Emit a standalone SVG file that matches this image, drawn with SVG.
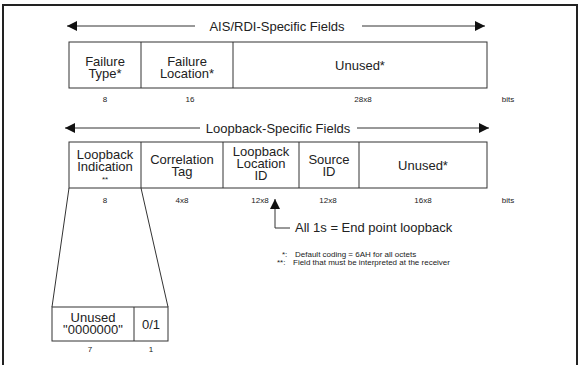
<svg xmlns="http://www.w3.org/2000/svg" width="580" height="365" viewBox="0 0 580 365">
<defs>
<style>
text{font-family:"Liberation Sans",Arial,sans-serif;fill:#222}
.c{font-size:13px;text-anchor:middle}
.s{font-size:8px;text-anchor:middle}
.n{font-size:8px}
.box{fill:#fff;stroke:#333;stroke-width:1}
.ln{stroke:#333;stroke-width:1;fill:none}
</style>
<marker id="ah" viewBox="0 0 10 10" refX="10" refY="5" markerWidth="15" markerHeight="10" markerUnits="userSpaceOnUse" orient="auto"><path d="M0,0L10,5L0,10z" fill="#111"/></marker>
</defs>
<rect width="580" height="365" fill="#fff"/>
<path d="M3,365V5H577V365" fill="none" stroke="#222" stroke-width="2"/>

<g id="connectors">
<line class="ln" x1="195" y1="26" x2="67" y2="26" marker-end="url(#ah)"/>
<line class="ln" x1="362" y1="26" x2="485" y2="26" marker-end="url(#ah)"/>
<line class="ln" x1="200" y1="128" x2="65" y2="128" marker-end="url(#ah)"/>
<line class="ln" x1="357" y1="128" x2="489" y2="128" marker-end="url(#ah)"/>
<line class="ln" x1="69" y1="188" x2="52" y2="307"/>
<line class="ln" x1="141" y1="188" x2="168" y2="307"/>
<path class="ln" d="M290,228H275V199" marker-end="url(#ah)"/>
</g>

<g id="ais-title"><text class="c" x="277" y="31">AIS/RDI-Specific Fields</text></g>
<g id="ais-row">
<rect class="box" x="69" y="42" width="418" height="46"/>
<line class="ln" x1="141" y1="42" x2="141" y2="88"/>
<line class="ln" x1="233" y1="42" x2="233" y2="88"/>
<text class="c" x="105" y="66">Failure</text><text class="c" x="105" y="78">Type*</text>
<text class="c" x="187" y="66">Failure</text><text class="c" x="187" y="78">Location*</text>
<text class="c" x="360" y="70">Unused*</text>
<text class="s" x="105" y="102">8</text>
<text class="s" x="190" y="102">16</text>
<text class="s" x="363" y="102">28x8</text>
<text class="s" x="508" y="102">bits</text>
</g>

<g id="lb-title"><text class="c" x="278" y="133">Loopback-Specific Fields</text></g>
<g id="lb-row">
<rect class="box" x="69" y="142" width="418" height="46"/>
<line class="ln" x1="141" y1="142" x2="141" y2="188"/>
<line class="ln" x1="223" y1="142" x2="223" y2="188"/>
<line class="ln" x1="299" y1="142" x2="299" y2="188"/>
<line class="ln" x1="359" y1="142" x2="359" y2="188"/>
<text class="c" x="105" y="159">Loopback</text><text class="c" x="105" y="171">Indication</text><text class="s" x="105" y="182">**</text>
<text class="c" x="182" y="164">Correlation</text><text class="c" x="182" y="176">Tag</text>
<text class="c" x="261" y="156">Loopback</text><text class="c" x="261" y="168">Location</text><text class="c" x="261" y="180">ID</text>
<text class="c" x="329" y="164">Source</text><text class="c" x="329" y="176">ID</text>
<text class="c" x="423" y="170">Unused*</text>
<text class="s" x="105" y="203">8</text>
<text class="s" x="182" y="203">4x8</text>
<text class="s" x="260" y="203">12x8</text>
<text class="s" x="328" y="203">12x8</text>
<text class="s" x="423" y="203">16x8</text>
<text class="s" x="508" y="203">bits</text>
</g>

<g id="endpoint-note"><text x="295" y="232" style="font-size:13px">All 1s = End point loopback</text></g>

<g id="notes">
<text class="n" x="282" y="257">*:</text><text class="n" x="295" y="257">Default coding = 6AH for all octets</text>
<text class="n" x="277" y="265">**:</text><text class="n" x="293" y="265">Field that must be interpreted at the receiver</text>
</g>

<g id="indication-detail">
<rect class="box" x="52" y="307" width="116" height="34"/>
<line class="ln" x1="134" y1="307" x2="134" y2="341"/>
<text class="c" x="93" y="322">Unused</text><text class="c" x="93" y="334">"0000000"</text>
<text class="c" x="151" y="329">0/1</text>
<text class="s" x="90" y="352">7</text>
<text class="s" x="151" y="352">1</text>
</g>
</svg>
